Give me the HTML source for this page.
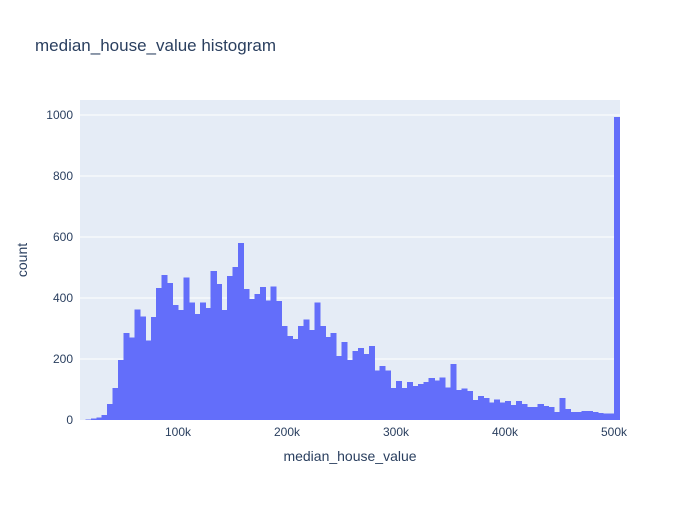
<!DOCTYPE html>
<html><head><meta charset="utf-8"><style>
body{margin:0;background:#fff;}
svg text{font-family:"Liberation Sans",Arial,sans-serif;fill:#2a3f5f;}
</style></head><body>
<svg id="chart" width="700" height="500" xmlns="http://www.w3.org/2000/svg">
<rect x="0" y="0" width="700" height="500" fill="#fff"/>
<rect x="80" y="100" width="540" height="320" fill="#e5ecf6"/>
<g id="grid"></g><g id="bars" shape-rendering="crispEdges"></g><g id="ticks"></g>
<text x="35" y="51" font-size="17">median_house_value histogram</text>
<text x="350" y="461" font-size="14" text-anchor="middle">median_house_value</text>
<text x="0" y="0" font-size="14" text-anchor="middle" transform="translate(27,260) rotate(-90)">count</text>
</svg>
<script>
const binStart = 15000;
const binWidth = 5000;
const counts = [2,5,8,16,52,105,196,285,270,363,340,260,337,432,475,450,377,360,468,385,348,385,368,488,446,360,472,502,580,430,397,413,436,391,437,390,308,275,265,308,330,295,386,308,272,285,210,256,197,226,236,216,243,162,177,162,105,128,105,125,112,118,125,138,129,139,106,184,98,104,95,66,79,72,57,68,57,62,49,62,53,43,43,52,46,42,27,72,36,27,27,29,29,26,23,21,21,993];
const yTicks = [0,200,400,600,800,1000];
const xTicks = [100000,200000,300000,400000,500000];
const xTickLabels = ["100k","200k","300k","400k","500k"];
const NS="http://www.w3.org/2000/svg";
function xs(v){return 178+(v-100000)*0.00109;}
function ys(v){return 420-v*0.305;}
const grid=document.getElementById('grid'),bars=document.getElementById('bars'),ticks=document.getElementById('ticks');
yTicks.forEach((t,i)=>{
  if(t>0){const l=document.createElementNS(NS,'line');
  l.setAttribute('x1',80);l.setAttribute('x2',620);l.setAttribute('y1',ys(t));l.setAttribute('y2',ys(t));
  l.setAttribute('stroke','#fff');l.setAttribute('stroke-width','1');
  
  
  grid.appendChild(l);}
  const tx=document.createElementNS(NS,'text');
  tx.setAttribute('x',73);tx.setAttribute('y',ys(t)+4);tx.setAttribute('font-size','12');tx.setAttribute('text-anchor','end');
  tx.textContent=t;
  
  
  ticks.appendChild(tx);
});
xTicks.forEach((t,i)=>{
  const tx=document.createElementNS(NS,'text');
  tx.setAttribute('x',xs(t));tx.setAttribute('y',436);tx.setAttribute('font-size','12');tx.setAttribute('text-anchor','middle');
  tx.textContent=xTickLabels[i];
  
  
  ticks.appendChild(tx);
});
counts.forEach((c,i)=>{
  const x0=xs(binStart+i*binWidth),x1=xs(binStart+(i+1)*binWidth);
  const r=document.createElementNS(NS,'rect');
  r.setAttribute('x',x0);r.setAttribute('width',Math.max(0,x1-x0+0.6));
  r.setAttribute('y',ys(c));r.setAttribute('height',420-ys(c));
  r.setAttribute('fill','#636efa');
  
  
  bars.appendChild(r);
});
</script>
</body></html>
